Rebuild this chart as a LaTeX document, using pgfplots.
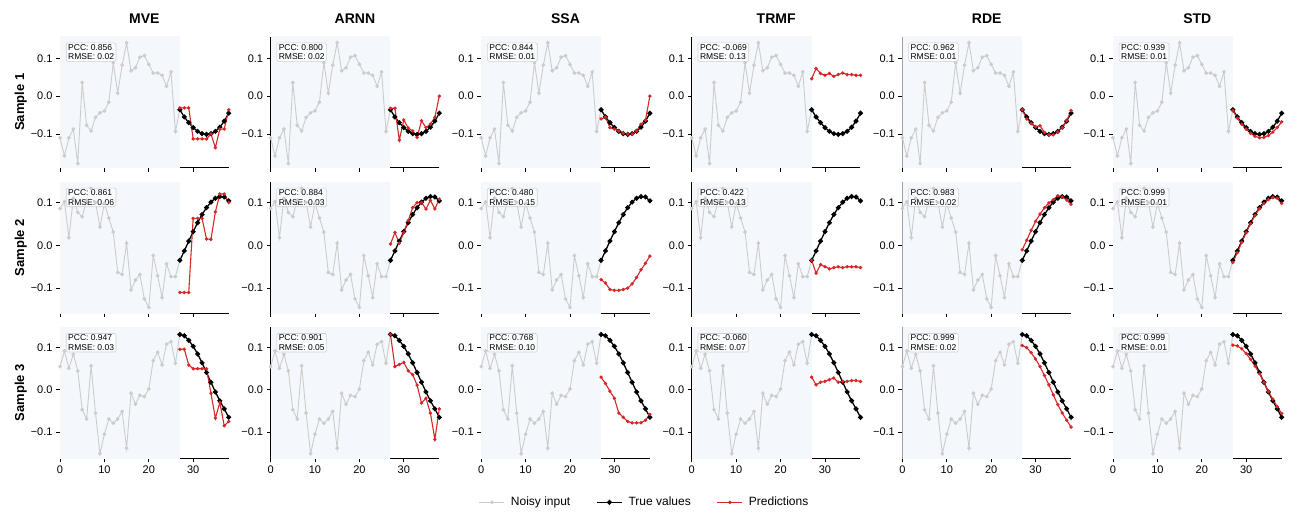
\documentclass[border=0pt]{standalone}
\usepackage{fontspec}
\setmainfont{Liberation Sans}
\usepackage{pgfplots}
\usepackage{pgfplotstable}
\pgfplotsset{compat=1.18}
\usepgfplotslibrary{groupplots}
\definecolor{noisy}{HTML}{CCCCCC}
\definecolor{predred}{HTML}{D62728}
\definecolor{bgshade}{HTML}{F4F8FC}
\definecolor{boxline}{HTML}{D0D0D0}

% noisy inputs (t = 0..27), one table per sample
\pgfplotstableread{
t v
0 -0.110
1 -0.158
2 -0.110
3 -0.087
4 -0.178
5 0.036
6 -0.077
7 -0.092
8 -0.056
9 -0.044
10 -0.039
11 -0.016
12 0.088
13 0.008
14 0.082
15 0.141
16 0.067
17 0.075
18 0.103
19 0.107
20 0.084
21 0.061
22 0.061
23 0.055
24 0.026
25 0.064
26 -0.093
27 -0.036
}\noisyA
\pgfplotstableread{
t v
0 0.086
1 0.102
2 0.018
3 0.110
4 0.077
5 0.067
6 0.105
7 0.133
8 0.100
9 0.043
10 0.098
11 0.064
12 0.031
13 -0.063
14 -0.068
15 0.005
16 -0.104
17 -0.081
18 -0.068
19 -0.125
20 -0.145
21 -0.024
22 -0.071
23 -0.122
24 -0.043
25 -0.073
26 -0.073
27 -0.035
}\noisyB
\pgfplotstableread{
t v
0 0.055
1 0.092
2 0.051
3 0.084
4 0.045
5 -0.047
6 -0.069
7 0.057
8 -0.055
9 -0.151
10 -0.105
11 -0.069
12 -0.079
13 -0.069
14 -0.051
15 -0.138
16 -0.008
17 -0.034
18 -0.013
19 -0.016
20 0.002
21 0.069
22 0.089
23 0.059
24 0.108
25 0.114
26 0.063
27 0.131
}\noisyC

% true values and predictions (t = 27..38)
\pgfplotstableread{
t true mve arnn ssa trmf rde std
27 -0.036 -0.031 -0.032 -0.060 0.046 -0.036 -0.038
28 -0.055 -0.031 -0.032 -0.056 0.073 -0.060 -0.058
29 -0.070 -0.031 -0.116 -0.083 0.060 -0.072 -0.074
30 -0.083 -0.113 -0.063 -0.087 0.055 -0.081 -0.087
31 -0.093 -0.113 -0.084 -0.092 0.060 -0.078 -0.098
32 -0.099 -0.113 -0.092 -0.098 0.052 -0.096 -0.106
33 -0.101 -0.113 -0.109 -0.100 0.057 -0.102 -0.110
34 -0.099 -0.100 -0.065 -0.100 0.061 -0.102 -0.109
35 -0.093 -0.136 -0.083 -0.092 0.057 -0.094 -0.104
36 -0.082 -0.087 -0.074 -0.074 0.057 -0.083 -0.095
37 -0.066 -0.087 -0.056 -0.063 0.055 -0.065 -0.083
38 -0.045 -0.036 0.000 0.000 0.055 -0.038 -0.068
}\predA
\pgfplotstableread{
t true mve arnn ssa trmf rde std
27 -0.035 -0.110 0.003 -0.080 -0.035 -0.010 -0.040
28 -0.013 -0.110 0.030 -0.088 -0.065 0.012 -0.017
29 0.010 -0.110 0.005 -0.103 -0.045 0.035 0.007
30 0.032 0.063 0.030 -0.105 -0.050 0.056 0.030
31 0.053 0.063 0.058 -0.105 -0.055 0.073 0.051
32 0.072 0.063 0.088 -0.103 -0.052 0.088 0.070
33 0.088 0.015 0.100 -0.100 -0.050 0.099 0.086
34 0.101 0.014 0.100 -0.090 -0.052 0.107 0.098
35 0.110 0.078 0.085 -0.075 -0.050 0.116 0.107
36 0.114 0.120 0.105 -0.057 -0.050 0.113 0.112
37 0.113 0.120 0.085 -0.042 -0.050 0.106 0.110
38 0.104 0.100 0.108 -0.025 -0.052 0.096 0.098
}\predB
\pgfplotstableread{
t true mve arnn ssa trmf rde std
27 0.131 0.096 0.131 0.030 0.030 0.105 0.106
28 0.128 0.096 0.055 0.015 0.012 0.100 0.104
29 0.117 0.059 0.060 -0.003 0.018 0.088 0.097
30 0.103 0.050 0.065 -0.020 0.020 0.073 0.086
31 0.085 0.050 0.045 -0.055 0.024 0.055 0.072
32 0.064 0.050 0.036 -0.065 0.028 0.034 0.056
33 0.041 0.050 0.011 -0.075 0.018 0.012 0.038
34 0.018 -0.008 -0.031 -0.078 0.020 -0.012 0.018
35 -0.005 -0.067 -0.020 -0.078 0.020 -0.035 -0.004
36 -0.026 -0.030 -0.055 -0.078 0.022 -0.055 -0.022
37 -0.045 -0.085 -0.117 -0.072 0.022 -0.072 -0.040
38 -0.065 -0.075 -0.045 -0.058 0.020 -0.088 -0.056
}\predC

\pgfplotsset{
  noisyline/.style={color=noisy, line width=0.9pt, mark=*, mark size=1.4pt},
  trueline/.style={black, line width=1.3pt, mark=*, mark size=1.8pt},
  predline/.style={predred, line width=1.1pt, mark=*, mark size=1.1pt},
}
\tikzset{pccbox/.style={anchor=north west, draw=boxline, line width=0.6pt, fill=white,
  fill opacity=0.8, text opacity=1, rounded corners=1.5pt, inner xsep=2pt, inner ysep=1.5pt,
  align=left, font=\fontsize{8.5}{9.5}\selectfont}}

% #1 noisy table, #2 prediction table, #3 method column, #4 PCC, #5 RMSE
\newcommand{\panel}[5]{%
  \fill[bgshade] (axis cs:0,-1) rectangle (axis cs:27,1);
  \addplot[noisyline] table[x=t,y=v] {#1};
  \addplot[trueline] table[x=t,y=true] {#2};
  \addplot[predline] table[x=t,y=#3] {#2};
  \node[pccbox] at (rel axis cs:0.035,0.955) {PCC: #4\\RMSE: #5};
}

\begin{document}
\begin{tikzpicture}
\begin{groupplot}[
  group style={group size=6 by 3, horizontal sep=41.9pt, vertical sep=14.3pt,
    xticklabels at=edge bottom},
  width=168.7pt, height=131pt, scale only axis,
  xmin=0, xmax=38,
  axis lines=left, axis line style={-, line width=0.8pt},
  tick align=outside, major tick length=4pt, tick style={black, line width=0.8pt},
  xtick={0,10,20,30}, xticklabels={0,10,20,30},
  ytick={-0.1,0,0.1}, yticklabels={−0.1,0.0,0.1},
  tick label style={font=\fontsize{11}{13}\selectfont},
  title style={font=\fontsize{14}{16}\selectfont\bfseries, yshift=4pt},
  ylabel style={font=\fontsize{13}{15}\selectfont\bfseries, yshift=-3pt},
]
% row 1
\nextgroupplot[title=MVE, ymin=-0.189, ymax=0.157, ylabel=Sample 1]
\panel{\noisyA}{\predA}{mve}{0.856}{0.02}
\nextgroupplot[title=ARNN, ymin=-0.189, ymax=0.157]
\panel{\noisyA}{\predA}{arnn}{0.800}{0.02}
\nextgroupplot[title=SSA, ymin=-0.189, ymax=0.157]
\panel{\noisyA}{\predA}{ssa}{0.844}{0.01}
\nextgroupplot[title=TRMF, ymin=-0.189, ymax=0.157]
\panel{\noisyA}{\predA}{trmf}{-0.069}{0.13}
\nextgroupplot[title=RDE, ymin=-0.189, ymax=0.157]
\panel{\noisyA}{\predA}{rde}{0.962}{0.01}
\nextgroupplot[title=STD, ymin=-0.189, ymax=0.157]
\panel{\noisyA}{\predA}{std}{0.939}{0.01}
% row 2
\nextgroupplot[ymin=-0.158, ymax=0.148, ylabel=Sample 2]
\panel{\noisyB}{\predB}{mve}{0.861}{0.06}
\nextgroupplot[ymin=-0.158, ymax=0.148]
\panel{\noisyB}{\predB}{arnn}{0.884}{0.03}
\nextgroupplot[ymin=-0.158, ymax=0.148]
\panel{\noisyB}{\predB}{ssa}{0.480}{0.15}
\nextgroupplot[ymin=-0.158, ymax=0.148]
\panel{\noisyB}{\predB}{trmf}{0.422}{0.13}
\nextgroupplot[ymin=-0.158, ymax=0.148]
\panel{\noisyB}{\predB}{rde}{0.983}{0.02}
\nextgroupplot[ymin=-0.158, ymax=0.148]
\panel{\noisyB}{\predB}{std}{0.999}{0.01}
% row 3
\nextgroupplot[ymin=-0.162, ymax=0.148, ylabel=Sample 3]
\panel{\noisyC}{\predC}{mve}{0.947}{0.03}
\nextgroupplot[ymin=-0.162, ymax=0.148]
\panel{\noisyC}{\predC}{arnn}{0.901}{0.05}
\nextgroupplot[ymin=-0.162, ymax=0.148,
  legend style={at={(0.969,-0.336)}, anchor=center, legend columns=3, draw=none, fill=none,
    font=\fontsize{12}{14}\selectfont,
    /tikz/every odd column/.append style={column sep=4pt},
    /tikz/every even column/.append style={column sep=24pt}},
  legend image code/.code={\draw[mark repeat=2, mark phase=2, #1]
    plot coordinates {(0pt,0pt) (12.5pt,0pt) (25pt,0pt)};}]
\panel{\noisyC}{\predC}{ssa}{0.768}{0.10}
\legend{Noisy input, True values, Predictions}
\nextgroupplot[ymin=-0.162, ymax=0.148]
\panel{\noisyC}{\predC}{trmf}{-0.060}{0.07}
\nextgroupplot[ymin=-0.162, ymax=0.148]
\panel{\noisyC}{\predC}{rde}{0.999}{0.02}
\nextgroupplot[ymin=-0.162, ymax=0.148]
\panel{\noisyC}{\predC}{std}{0.999}{0.01}
\end{groupplot}
\path ([shift={(-60pt,36.7pt)}]group c1r1.north west) rectangle ++(1299pt,-514pt);
\end{tikzpicture}
\end{document}
